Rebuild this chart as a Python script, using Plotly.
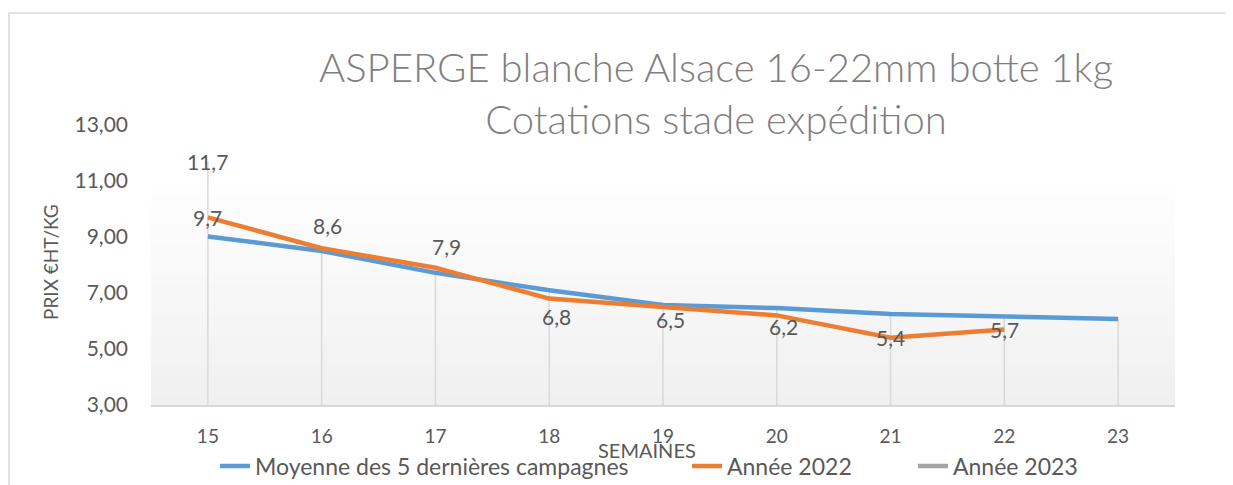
import plotly.graph_objects as go

weeks = ["15", "16", "17", "18", "19", "20", "21", "22", "23"]
moyenne = [9.02, 8.5, 7.72, 7.1, 6.57, 6.46, 6.25, 6.16, 6.07]
annee_2022 = [9.7, 8.6, 7.9, 6.8, 6.5, 6.2, 5.4, 5.7, None]
annee_2023 = [11.7, None, None, None, None, None, None, None, None]
y_ticks = [3, 5, 7, 9, 11, 13]
y_tick_labels = ["3,00", "5,00", "7,00", "9,00", "11,00", "13,00"]

# label offsets (pixels) for the 2022 data labels
lbl_2022_off = [(0, 0), (6, 23), (11, 21), (7, -18), (7, -12), (7, -11), (0, 0), (0, 0), (0, 0)]

FONT = "Lato"
TXT = "#595959"
BLUE = "#5b9bd5"
ORANGE = "#ed7d31"
GRAY = "#a5a5a5"

W, H = 1233, 485
OFF = 8  # page body margin offset in the screenshot
# plot area in screen pixels: x 151..1175, y 125..405
L, T = 151 - OFF, 125 - OFF
R = W - (1175 - OFF)
B = H - (405 - OFF)
PW, PH = W - L - R, H - T - B


def px_x(px):
    return (px - OFF - L) / PW


def px_y(py):
    return (H - B - (py - OFF)) / PH


fig = go.Figure()

# drop lines from axis minimum to highest series value at each category
dx, dy = [], []
for i, w in enumerate(weeks):
    vals = [s[i] for s in (moyenne, annee_2022, annee_2023) if s[i] is not None]
    dx += [w, w, None]
    dy += [y_ticks[0], max(vals), None]
fig.add_trace(go.Scatter(x=dx, y=dy, mode="lines", line=dict(color="#d9d9d9", width=1.5),
                         showlegend=False, hoverinfo="skip"))

fig.add_trace(go.Scatter(x=weeks, y=moyenne, mode="lines", name="Moyenne des 5 dernières campagnes",
                         line=dict(color=BLUE, width=4.5), legend="legend"))
fig.add_trace(go.Scatter(x=weeks, y=annee_2022, mode="lines", name="Année 2022",
                         line=dict(color=ORANGE, width=4.5), legend="legend2"))
fig.add_trace(go.Scatter(x=weeks, y=annee_2023, mode="lines", name="Année 2023",
                         line=dict(color=GRAY, width=4.5), legend="legend3"))

annotations = []
for i, w in enumerate(weeks):
    v = annee_2022[i]
    if v is None:
        continue
    ox, oy = lbl_2022_off[i]
    annotations.append(dict(x=i, y=v, xref="x", yref="y", text=f"{v:.1f}".replace(".", ","),
                            showarrow=False, xshift=ox, yshift=oy,
                            font=dict(family=FONT, size=21, color=TXT)))
for i, w in enumerate(weeks):
    v = annee_2023[i]
    if v is None:
        continue
    annotations.append(dict(x=i, y=v, xref="x", yref="y", text=f"{v:.1f}".replace(".", ","),
                            showarrow=False, font=dict(family=FONT, size=21, color=TXT)))

annotations.append(dict(x=px_x(716), y=px_y(93), xref="paper", yref="paper",
                        text="ASPERGE blanche Alsace 16-22mm botte 1kg<br>Cotations stade expédition",
                        showarrow=False, xanchor="center", yanchor="middle",
                        font=dict(family=FONT, size=40, color="#7f7f7f", weight=300)))
annotations.append(dict(x=px_x(647), y=px_y(450), xref="paper", yref="paper",
                        text="SEMAINES", showarrow=False, xanchor="center", yanchor="middle",
                        font=dict(family=FONT, size=20, color=TXT)))
annotations.append(dict(x=px_x(50), y=px_y(262), xref="paper", yref="paper",
                        text="PRIX €HT/KG", showarrow=False, textangle=-90,
                        xanchor="center", yanchor="middle",
                        font=dict(family=FONT, size=19, color=TXT)))

shapes = []
# gradient plot-area fill (bands)
top_px, bot_px = 185, 405
n = 22
for k in range(n):
    ya = top_px + (bot_px - top_px) * k / n
    yb = top_px + (bot_px - top_px) * (k + 1) / n
    c = int(255 - (255 - 240) * (k + 0.5) / n)
    shapes.append(dict(type="rect", xref="paper", yref="paper", x0=0, x1=1,
                       y0=px_y(yb), y1=px_y(ya),
                       fillcolor=f"rgb({c},{c},{c})", line=dict(width=0), layer="below"))
# outer chart border
shapes.append(dict(type="rect", xref="paper", yref="paper", x0=px_x(9), x1=px_x(1260),
                   y0=px_y(520), y1=px_y(13), line=dict(color="#d9d9d9", width=1.5),
                   fillcolor="rgba(0,0,0,0)", layer="below"))

leg_common = dict(orientation="h", xanchor="left", yanchor="middle", y=px_y(466),
                  font=dict(family=FONT, size=23, color=TXT), bgcolor="rgba(0,0,0,0)",
                  itemwidth=30)

fig.update_layout(
    width=W, height=H,
    margin=dict(l=L, r=R, t=T, b=B, autoexpand=False),
    paper_bgcolor="white", plot_bgcolor="white",
    font=dict(family=FONT, color=TXT),
    annotations=annotations, shapes=shapes,
    showlegend=True,
    legend=dict(x=px_x(215), **leg_common),
    legend2=dict(x=px_x(687), **leg_common),
    legend3=dict(x=px_x(913), **leg_common),
    xaxis=dict(type="category", range=[-0.5, 8.5], showgrid=False, zeroline=False,
               showline=True, linecolor="#d9d9d9", linewidth=2, ticks="",
               ticklabelstandoff=13, automargin=False,
               tickfont=dict(family=FONT, size=19, color=TXT)),
    yaxis=dict(range=[3, 13], tickvals=y_ticks, ticktext=y_tick_labels, showgrid=False,
               zeroline=False, showline=False, ticks="", ticklabelstandoff=22, automargin=False,
               tickfont=dict(family=FONT, size=21, color=TXT)),
)

fig.write_html("out.html")
